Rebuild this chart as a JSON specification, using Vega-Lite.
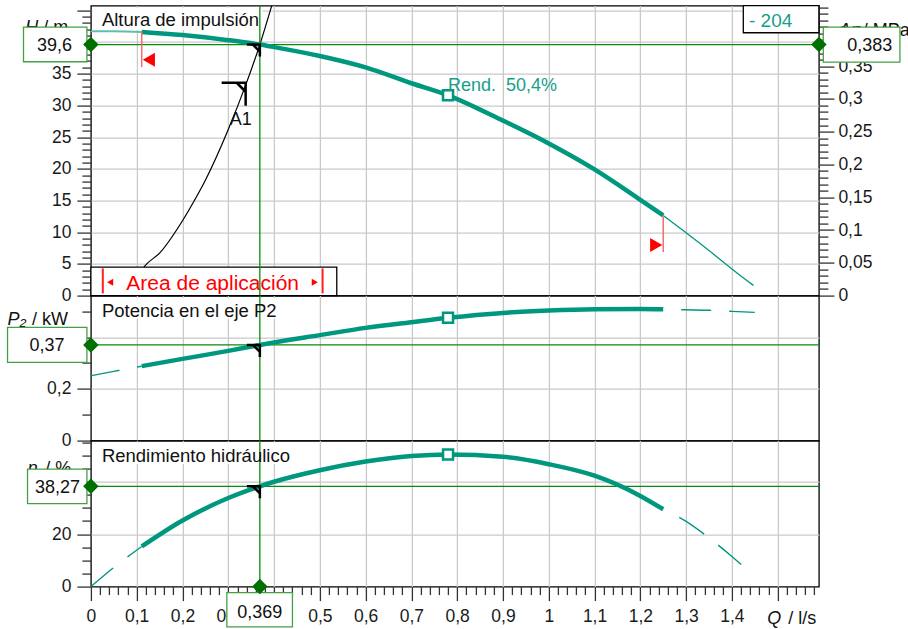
{
"$schema": "https://vega.github.io/schema/vega-lite/v6.json",
"autosize": {"type": "pad"},
"padding": {"left": 5.9, "top": 1.6, "right": 0, "bottom": 0},
"background": "white",
"bounds": "flush",
"spacing": 0,
"config": {
  "font": "Liberation Sans",
  "view": {"stroke": "#000000", "strokeWidth": 1.3},
  "axis": {"zindex": 0, "domain": false, "labelFont": "Liberation Sans", "labelFontSize": 17.5, "labelColor": "#1a1a1a", "tickColor": "#333333", "tickWidth": 1.3, "gridColor": "#cacaca", "gridWidth": 1.3, "labelOverlap": false, "labelFlush": false, "labelBound": false, "tickCount": 1000},
  "locale": {"number": {"decimal": ",", "thousands": ".", "grouping": [3], "currency": ["", " €"]}},
  "text": {"font": "Liberation Sans", "color": "#111111"}
},
"datasets": {
  "head": [{"Q":0,"H":41.7},{"Q":0.05,"H":41.7},{"Q":0.111,"H":41.6},{"Q":0.2,"H":41.1},{"Q":0.3,"H":40.3},{"Q":0.369,"H":39.6},{"Q":0.4,"H":39.2},{"Q":0.5,"H":37.8},{"Q":0.6,"H":36.0},{"Q":0.7,"H":33.5},{"Q":0.78,"H":31.6},{"Q":0.9,"H":27.6},{"Q":1.0,"H":24.0},{"Q":1.1,"H":19.9},{"Q":1.2,"H":15.1},{"Q":1.25,"H":12.65},{"Q":1.3,"H":9.9},{"Q":1.35,"H":7.1},{"Q":1.4,"H":4.2},{"Q":1.447,"H":1.6}],
  "power": [{"Q":0,"P":0.251},{"Q":0.05,"P":0.268},{"Q":0.111,"P":0.288},{"Q":0.2,"P":0.316},{"Q":0.3,"P":0.347},{"Q":0.369,"P":0.37},{"Q":0.4,"P":0.38},{"Q":0.5,"P":0.408},{"Q":0.6,"P":0.436},{"Q":0.7,"P":0.458},{"Q":0.78,"P":0.475},{"Q":0.9,"P":0.494},{"Q":1.0,"P":0.503},{"Q":1.1,"P":0.508},{"Q":1.2,"P":0.509},{"Q":1.25,"P":0.508},{"Q":1.3,"P":0.506},{"Q":1.35,"P":0.504},{"Q":1.4,"P":0.5},{"Q":1.45,"P":0.496}],
  "eff": [{"Q":0,"eta":0},{"Q":0.05,"eta":7.3},{"Q":0.111,"eta":15.3},{"Q":0.2,"eta":25.2},{"Q":0.3,"eta":33.8},{"Q":0.369,"eta":38.27},{"Q":0.4,"eta":40.0},{"Q":0.5,"eta":44.4},{"Q":0.6,"eta":47.7},{"Q":0.7,"eta":49.8},{"Q":0.78,"eta":50.4},{"Q":0.9,"eta":49.5},{"Q":1.0,"eta":46.7},{"Q":1.1,"eta":42.3},{"Q":1.2,"eta":34.6},{"Q":1.25,"eta":29.5},{"Q":1.3,"eta":24.9},{"Q":1.35,"eta":18.6},{"Q":1.4,"eta":11.5},{"Q":1.447,"eta":4.2}],
  "system": [{"Q":0.1,"H":3.0},{"Q":0.122,"H":5.0},{"Q":0.15,"H":6.7},{"Q":0.2,"H":11.8},{"Q":0.226,"H":15.0},{"Q":0.25,"H":18.2},{"Q":0.3,"H":26.2},{"Q":0.338,"H":33.2},{"Q":0.369,"H":39.6},{"Q":0.395,"H":45.75}],
  "duty": [{"Q":0.369,"H":39.6,"dp":0.383,"P":0.37,"eta":38.27}],
  "bep": [{"Q":0.78,"H":31.6,"P":0.475,"eta":50.4}],
  "anchor": [{"Q":0.338,"H":33.58,"name":"A1"}]
},
"vconcat": [
{
  "width": 728, "height": 290,
  "resolve": {"scale": {"y": "independent"}},
  "layer": [
  {
    "layer": [
      {"data":{"values":[{}]},"mark":{"type":"rect","fill":"white","strokeWidth":0},
       "encoding":{"x":{"datum":0.004,"type":"quantitative","scale":{"domain":[0,1.59],"nice":false,"zero":false},"title":null},"x2":{"datum":0.375},
         "y":{"datum":41.9,"type":"quantitative","scale":{"domain":[0,45.75],"nice":false,"zero":false},"title":null},"y2":{"datum":45.4}}},
      {"data":{"name":"system"},"mark":{"type":"line","color":"#000000","strokeWidth":1.2,"interpolate":"monotone"},
       "encoding":{"x":{"field":"Q","type":"quantitative","scale":{"domain":[0,1.59],"nice":false,"zero":false},"title":null},
         "y":{"field":"H","type":"quantitative","scale":{"domain":[0,45.75],"nice":false,"zero":false},"title":null}}},
      {"data":{"values":[{}]},"mark":{"type":"rect","fill":"white","stroke":"#000000","strokeWidth":1.3},
       "encoding":{"x":{"datum":0,"type":"quantitative","scale":{"domain":[0,1.59],"nice":false,"zero":false},"title":null},"x2":{"datum":0.537},
         "y":{"datum":0,"type":"quantitative","scale":{"domain":[0,45.75],"nice":false,"zero":false},"title":null},"y2":{"datum":4.5}}},
      {"data":{"values":[{}]},"mark":{"type":"rule","color":"#ff2020","strokeWidth":2},
       "encoding":{"x":{"datum":0.026,"type":"quantitative","scale":{"domain":[0,1.59],"nice":false,"zero":false},"title":null},
         "y":{"datum":0.35,"type":"quantitative","scale":{"domain":[0,45.75],"nice":false,"zero":false},"title":null},"y2":{"datum":4.29}}},
      {"data":{"values":[{}]},"mark":{"type":"rule","color":"#ff2020","strokeWidth":2},
       "encoding":{"x":{"datum":0.506,"type":"quantitative","scale":{"domain":[0,1.59],"nice":false,"zero":false},"title":null},
         "y":{"datum":0.35,"type":"quantitative","scale":{"domain":[0,45.75],"nice":false,"zero":false},"title":null},"y2":{"datum":4.29}}},
      {"data":{"values":[{}]},"mark":{"type":"point","shape":"triangle-left","filled":true,"size":49,"color":"#ff0000","opacity":1},
       "encoding":{"x":{"datum":0.042,"type":"quantitative","scale":{"domain":[0,1.59],"nice":false,"zero":false},"title":null},
         "y":{"datum":2.1,"type":"quantitative","scale":{"domain":[0,45.75],"nice":false,"zero":false},"title":null}}},
      {"data":{"values":[{}]},"mark":{"type":"point","shape":"triangle-right","filled":true,"size":49,"color":"#ff0000","opacity":1},
       "encoding":{"x":{"datum":0.489,"type":"quantitative","scale":{"domain":[0,1.59],"nice":false,"zero":false},"title":null},
         "y":{"datum":2.1,"type":"quantitative","scale":{"domain":[0,45.75],"nice":false,"zero":false},"title":null}}},
      {"data":{"values":[{}]},"mark":{"type":"text","align":"center","baseline":"alphabetic","fontSize":21,"color":"#ff0000"},
       "encoding":{"x":{"datum":0.266,"type":"quantitative","scale":{"domain":[0,1.59],"nice":false,"zero":false},"title":null},
         "y":{"datum":0.95,"type":"quantitative","scale":{"domain":[0,45.75],"nice":false,"zero":false},"title":null},"text":{"value":"Area de aplicación"}}},
      {"data":{"name":"duty"},"mark":{"type":"rule","color":"#0a8a0a","strokeWidth":1.3},
       "encoding":{"y":{"field":"H","type":"quantitative","scale":{"domain":[0,45.75],"nice":false,"zero":false},"title":null}}},
      {"data":{"name":"duty"},"mark":{"type":"rule","color":"#0a8a0a","strokeWidth":1.3},
       "encoding":{"x":{"field":"Q","type":"quantitative","scale":{"domain":[0,1.59],"nice":false,"zero":false},"title":null}}},
      {"data":{"values":[{}]},"mark":{"type":"text","align":"left","baseline":"alphabetic","fontSize":18,"fontStyle":"italic"},
       "encoding":{"x":{"datum":-0.1434,"type":"quantitative","scale":{"domain":[0,1.59],"nice":false,"zero":false},"title":null},
         "y":{"datum":41.36,"type":"quantitative","scale":{"domain":[0,45.75],"nice":false,"zero":false},"title":null},"text":{"value":"H"}}},
      {"data":{"values":[{}]},"mark":{"type":"text","align":"left","baseline":"alphabetic","fontSize":18},
       "encoding":{"x":{"datum":-0.104,"type":"quantitative","scale":{"domain":[0,1.59],"nice":false,"zero":false},"title":null},
         "y":{"datum":41.36,"type":"quantitative","scale":{"domain":[0,45.75],"nice":false,"zero":false},"title":null},"text":{"value":"/ m"}}},
      {"data":{"values":[{}]},"mark":{"type":"text","align":"left","baseline":"alphabetic","fontSize":18,"fontStyle":"italic"},
       "encoding":{"x":{"datum":1.6336,"type":"quantitative","scale":{"domain":[0,1.59],"nice":false,"zero":false},"title":null},
         "y":{"datum":40.95,"type":"quantitative","scale":{"domain":[0,45.75],"nice":false,"zero":false},"title":null},"text":{"value":"Δp"}}},
      {"data":{"values":[{}]},"mark":{"type":"text","align":"left","baseline":"alphabetic","fontSize":18},
       "encoding":{"x":{"datum":1.686,"type":"quantitative","scale":{"domain":[0,1.59],"nice":false,"zero":false},"title":null},
         "y":{"datum":40.95,"type":"quantitative","scale":{"domain":[0,45.75],"nice":false,"zero":false},"title":null},"text":{"value":"/ MPa"}}},
      {"data":{"name":"head"},"transform":[{"filter":"datum.Q <= 0.111"}],"mark":{"type":"line","color":"#5fbfae","strokeWidth":2,"interpolate":"monotone"},
       "encoding":{"x":{"field":"Q","type":"quantitative","scale":{"domain":[0,1.59],"nice":false,"zero":false},"title":null},
         "y":{"field":"H","type":"quantitative","scale":{"domain":[0,45.75],"nice":false,"zero":false},"title":null}}},
      {"data":{"name":"head"},"transform":[{"filter":"datum.Q >= 1.25"}],"mark":{"type":"line","color":"#00977f","strokeWidth":1.3,"interpolate":"monotone"},
       "encoding":{"x":{"field":"Q","type":"quantitative","scale":{"domain":[0,1.59],"nice":false,"zero":false},"title":null},
         "y":{"field":"H","type":"quantitative","scale":{"domain":[0,45.75],"nice":false,"zero":false},"title":null}}},
      {"data":{"name":"head"},"transform":[{"filter":"datum.Q >= 0.111 && datum.Q <= 1.25"}],"mark":{"type":"line","color":"#00977f","strokeWidth":4.5,"interpolate":"monotone"},
       "encoding":{"x":{"field":"Q","type":"quantitative","scale":{"domain":[0,1.59],"nice":false,"zero":false},"title":null,
           "axis":{"values":[0.1,0.2,0.3,0.4,0.5,0.6,0.7,0.8,0.9,1,1.1,1.2,1.3,1.4,1.5],"labels":false,"ticks":false,"domain":false,"grid":true,"tickCount":1000}},
         "y":{"field":"H","type":"quantitative","scale":{"domain":[0,45.75],"nice":false,"zero":false},"title":null,
           "axis":{"orient":"left","tickCount":1000,"values":[0,1,2,3,4,5,6,7,8,9,10,11,12,13,14,15,16,17,18,19,20,21,22,23,24,25,26,27,28,29,30,31,32,33,34,35,36,37,38,39,40,41,42,43,44,45],
             "tickSize":{"condition":{"test":"datum.value % 5 === 0","value":14},"value":9},
             "labelFontSize":{"condition":{"test":"datum.value % 5 === 0 && datum.value < 41","value":17.5},"value":0},
             "labelExpr":"datum.value % 5 === 0 && datum.value < 41 ? replace(format(datum.value, '~r'), '.', ',') : ''","labelPadding":6,"grid":true,
             "gridOpacity":{"condition":{"test":"datum.value % 5 === 0 && datum.value > 0","value":1},"value":0}}}}},
      {"data":{"values":[{}]},"mark":{"type":"rule","color":"#f26d6d","strokeWidth":1.5},
       "encoding":{"x":{"datum":0.111,"type":"quantitative","scale":{"domain":[0,1.59],"nice":false,"zero":false},"title":null},
         "y":{"datum":41.7,"type":"quantitative","scale":{"domain":[0,45.75],"nice":false,"zero":false},"title":null},"y2":{"datum":36.04}}},
      {"data":{"values":[{}]},"mark":{"type":"point","shape":"triangle-left","filled":true,"size":196,"color":"#ff0000","opacity":1},
       "encoding":{"x":{"datum":0.1266,"type":"quantitative","scale":{"domain":[0,1.59],"nice":false,"zero":false},"title":null},
         "y":{"datum":37.22,"type":"quantitative","scale":{"domain":[0,45.75],"nice":false,"zero":false},"title":null}}},
      {"data":{"values":[{}]},"mark":{"type":"rule","color":"#f26d6d","strokeWidth":1.5},
       "encoding":{"x":{"datum":1.25,"type":"quantitative","scale":{"domain":[0,1.59],"nice":false,"zero":false},"title":null},
         "y":{"datum":12.65,"type":"quantitative","scale":{"domain":[0,45.75],"nice":false,"zero":false},"title":null},"y2":{"datum":6.86}}},
      {"data":{"values":[{}]},"mark":{"type":"point","shape":"triangle-right","filled":true,"size":196,"color":"#ff0000","opacity":1},
       "encoding":{"x":{"datum":1.2347,"type":"quantitative","scale":{"domain":[0,1.59],"nice":false,"zero":false},"title":null},
         "y":{"datum":7.97,"type":"quantitative","scale":{"domain":[0,45.75],"nice":false,"zero":false},"title":null}}},
      {"data":{"name":"duty"},"mark":{"type":"point","shape":"M-13,0H0V12M-7,0L0,7","size":4,"filled":false,"color":"#000000","strokeWidth":2.5,"opacity":1},
       "encoding":{"x":{"field":"Q","type":"quantitative","scale":{"domain":[0,1.59],"nice":false,"zero":false},"title":null},
         "y":{"field":"H","type":"quantitative","scale":{"domain":[0,45.75],"nice":false,"zero":false},"title":null}}},
      {"data":{"name":"anchor"},"mark":{"type":"point","shape":"M-24,0H0V23M-9,0L0,9","size":4,"filled":false,"color":"#000000","strokeWidth":2.5,"opacity":1},
       "encoding":{"x":{"field":"Q","type":"quantitative","scale":{"domain":[0,1.59],"nice":false,"zero":false},"title":null},
         "y":{"field":"H","type":"quantitative","scale":{"domain":[0,45.75],"nice":false,"zero":false},"title":null}}},
      {"data":{"name":"anchor"},"mark":{"type":"text","align":"center","baseline":"alphabetic","fontSize":18,"dx":-5,"dy":42.7},
       "encoding":{"x":{"field":"Q","type":"quantitative","scale":{"domain":[0,1.59],"nice":false,"zero":false},"title":null},
         "y":{"field":"H","type":"quantitative","scale":{"domain":[0,45.75],"nice":false,"zero":false},"title":null},"text":{"field":"name"}}},
      {"data":{"name":"bep"},"mark":{"type":"point","shape":"square","size":100,"filled":true,"fill":"white","stroke":"#00977f","strokeWidth":2.5,"opacity":1},
       "encoding":{"x":{"field":"Q","type":"quantitative","scale":{"domain":[0,1.59],"nice":false,"zero":false},"title":null},
         "y":{"field":"H","type":"quantitative","scale":{"domain":[0,45.75],"nice":false,"zero":false},"title":null}}},
      {"data":{"name":"bep"},"mark":{"type":"text","align":"left","baseline":"alphabetic","fontSize":18,"color":"#16a08a","dy":-4.2},
       "encoding":{"x":{"field":"Q","type":"quantitative","scale":{"domain":[0,1.59],"nice":false,"zero":false},"title":null},
         "y":{"field":"H","type":"quantitative","scale":{"domain":[0,45.75],"nice":false,"zero":false},"title":null},"text":{"value":"Rend.\u00a0 50,4%"}}},
      {"data":{"values":[{}]},"mark":{"type":"text","align":"left","baseline":"alphabetic","fontSize":18.5},
       "encoding":{"x":{"datum":0.024,"type":"quantitative","scale":{"domain":[0,1.59],"nice":false,"zero":false},"title":null},
         "y":{"datum":42.57,"type":"quantitative","scale":{"domain":[0,45.75],"nice":false,"zero":false},"title":null},"text":{"value":"Altura de impulsión"}}},
      {"data":{"values":[{}]},"mark":{"type":"rect","fill":"white","stroke":"#000000","strokeWidth":1.3},
       "encoding":{"x":{"datum":1.4249,"type":"quantitative","scale":{"domain":[0,1.59],"nice":false,"zero":false},"title":null},"x2":{"datum":1.59},
         "y":{"datum":41.47,"type":"quantitative","scale":{"domain":[0,45.75],"nice":false,"zero":false},"title":null},"y2":{"datum":45.75}}},
      {"data":{"values":[{}]},"mark":{"type":"text","align":"left","baseline":"alphabetic","fontSize":19,"color":"#16a08a"},
       "encoding":{"x":{"datum":1.4373,"type":"quantitative","scale":{"domain":[0,1.59],"nice":false,"zero":false},"title":null},
         "y":{"datum":42.35,"type":"quantitative","scale":{"domain":[0,45.75],"nice":false,"zero":false},"title":null},"text":{"value":"- 204"}}},
      {"data":{"values":[{}]},"mark":{"type":"rect","fill":"white","stroke":"#44a044","strokeWidth":1.3},
       "encoding":{"x":{"datum":-0.1472,"type":"quantitative","scale":{"domain":[0,1.59],"nice":false,"zero":false},"title":null},"x2":{"datum":-0.0087},
         "y":{"datum":36.89,"type":"quantitative","scale":{"domain":[0,45.75],"nice":false,"zero":false},"title":null},"y2":{"datum":42.35}}},
      {"data":{"name":"duty"},"mark":{"type":"text","align":"center","baseline":"alphabetic","fontSize":18,"dy":6.5},
       "encoding":{"x":{"datum":-0.0797,"type":"quantitative","scale":{"domain":[0,1.59],"nice":false,"zero":false},"title":null},
         "y":{"field":"H","type":"quantitative","scale":{"domain":[0,45.75],"nice":false,"zero":false},"title":null},"text":{"field":"H","format":".1f"}}},
      {"data":{"values":[{}]},"mark":{"type":"rect","fill":"white","stroke":"#44a044","strokeWidth":1.3},
       "encoding":{"x":{"datum":1.5996,"type":"quantitative","scale":{"domain":[0,1.59],"nice":false,"zero":false},"title":null},"x2":{"datum":1.767},
         "y":{"datum":36.83,"type":"quantitative","scale":{"domain":[0,45.75],"nice":false,"zero":false},"title":null},"y2":{"datum":42.35}}},
      {"data":{"name":"duty"},"mark":{"type":"text","align":"center","baseline":"alphabetic","fontSize":18,"dy":6.5},
       "encoding":{"x":{"datum":1.701,"type":"quantitative","scale":{"domain":[0,1.59],"nice":false,"zero":false},"title":null},
         "y":{"field":"H","type":"quantitative","scale":{"domain":[0,45.75],"nice":false,"zero":false},"title":null},"text":{"field":"dp","format":".3f"}}},
      {"data":{"name":"duty"},"mark":{"type":"point","shape":"diamond","size":240,"filled":true,"color":"#007000","opacity":1},
       "encoding":{"x":{"datum":0,"type":"quantitative","scale":{"domain":[0,1.59],"nice":false,"zero":false},"title":null},
         "y":{"field":"H","type":"quantitative","scale":{"domain":[0,45.75],"nice":false,"zero":false},"title":null}}}
    ]
  },
  {
    "data":{"name":"duty"},
    "mark":{"type":"point","shape":"diamond","size":240,"filled":true,"color":"#007000","opacity":1},
    "encoding":{"x":{"datum":1.59,"type":"quantitative","scale":{"domain":[0,1.59],"nice":false,"zero":false},"title":null},
      "y":{"field":"dp","type":"quantitative","scale":{"domain":[0,0.4425],"nice":false,"zero":false},"title":null,
        "axis":{"orient":"right","tickCount":1000,"values":[0,0.01,0.02,0.03,0.04,0.05,0.06,0.07,0.08,0.09,0.1,0.11,0.12,0.13,0.14,0.15,0.16,0.17,0.18,0.19,0.2,0.21,0.22,0.23,0.24,0.25,0.26,0.27,0.28,0.29,0.3,0.31,0.32,0.33,0.34,0.35,0.36,0.37,0.38,0.39,0.4,0.41,0.42,0.43,0.44],
          "tickSize":{"condition":{"test":"abs(datum.value*20-round(datum.value*20))<0.001","value":15},"value":9},
          "labelFontSize":{"condition":{"test":"abs(datum.value*20-round(datum.value*20))<0.001","value":17.5},"value":0},
          "labelExpr":"abs(datum.value*20-round(datum.value*20))<0.001 ? replace(format(datum.value, '~r'), '.', ',') : ''","labelPadding":4,"grid":false}}}
  }
  ]
},
{
  "width": 728, "height": 145,
  "layer": [
    {"data":{"values":[{}]},"mark":{"type":"rect","fill":"white","strokeWidth":0},
     "encoding":{"x":{"datum":0.004,"type":"quantitative","scale":{"domain":[0,1.59],"nice":false,"zero":false},"title":null},"x2":{"datum":0.415},
       "y":{"datum":0.472,"type":"quantitative","scale":{"domain":[0,0.5609],"nice":false,"zero":false},"title":null},"y2":{"datum":0.552}}},
    {"data":{"name":"duty"},"mark":{"type":"rule","color":"#0a8a0a","strokeWidth":1.3},
     "encoding":{"y":{"field":"P","type":"quantitative","scale":{"domain":[0,0.5609],"nice":false,"zero":false},"title":null}}},
    {"data":{"name":"duty"},"mark":{"type":"rule","color":"#0a8a0a","strokeWidth":1.3},
     "encoding":{"x":{"field":"Q","type":"quantitative","scale":{"domain":[0,1.59],"nice":false,"zero":false},"title":null}}},
    {"data":{"values":[{}]},"mark":{"type":"text","align":"left","baseline":"alphabetic","fontSize":18,"fontStyle":"italic"},
     "encoding":{"x":{"datum":-0.182,"type":"quantitative","scale":{"domain":[0,1.59],"nice":false,"zero":false},"title":null},
       "y":{"datum":0.4476,"type":"quantitative","scale":{"domain":[0,0.5609],"nice":false,"zero":false},"title":null},"text":{"value":"P₂"}}},
    {"data":{"values":[{}]},"mark":{"type":"text","align":"left","baseline":"alphabetic","fontSize":18},
     "encoding":{"x":{"datum":-0.1288,"type":"quantitative","scale":{"domain":[0,1.59],"nice":false,"zero":false},"title":null},
       "y":{"datum":0.4476,"type":"quantitative","scale":{"domain":[0,0.5609],"nice":false,"zero":false},"title":null},"text":{"value":"/ kW"}}},
    {"data":{"name":"power"},"transform":[{"filter":"datum.Q <= 0.111"}],"mark":{"type":"line","color":"#00977f","strokeWidth":1.4,"strokeDash":[29,18],"interpolate":"monotone"},
     "encoding":{"x":{"field":"Q","type":"quantitative","scale":{"domain":[0,1.59],"nice":false,"zero":false},"title":null},
       "y":{"field":"P","type":"quantitative","scale":{"domain":[0,0.5609],"nice":false,"zero":false},"title":null}}},
    {"data":{"name":"power"},"transform":[{"filter":"datum.Q >= 1.25"}],"mark":{"type":"line","color":"#00977f","strokeWidth":1.4,"strokeDash":[30,18],"strokeDashOffset":30,"interpolate":"monotone"},
     "encoding":{"x":{"field":"Q","type":"quantitative","scale":{"domain":[0,1.59],"nice":false,"zero":false},"title":null},
       "y":{"field":"P","type":"quantitative","scale":{"domain":[0,0.5609],"nice":false,"zero":false},"title":null}}},
    {"data":{"name":"power"},"transform":[{"filter":"datum.Q >= 0.111 && datum.Q <= 1.25"}],"mark":{"type":"line","color":"#00977f","strokeWidth":4.5,"interpolate":"monotone"},
     "encoding":{"x":{"field":"Q","type":"quantitative","scale":{"domain":[0,1.59],"nice":false,"zero":false},"title":null,
         "axis":{"values":[0.1,0.2,0.3,0.4,0.5,0.6,0.7,0.8,0.9,1,1.1,1.2,1.3,1.4,1.5],"labels":false,"ticks":false,"domain":false,"grid":true,"tickCount":1000}},
       "y":{"field":"P","type":"quantitative","scale":{"domain":[0,0.5609],"nice":false,"zero":false},"title":null,
         "axis":{"orient":"left","tickCount":1000,"values":[0,0.1,0.2,0.3,0.4,0.5],
           "tickSize":{"condition":{"test":"round(datum.value*10) % 2 === 0","value":14},"value":9},
           "labelFontSize":{"condition":{"test":"round(datum.value*10) % 2 === 0","value":17.5},"value":0},
           "labelExpr":"round(datum.value*10) % 2 === 0 ? replace(format(datum.value, '~r'), '.', ',') : ''","labelPadding":6,"grid":true,
           "gridOpacity":{"condition":{"test":"round(datum.value*10) % 2 === 0 && datum.value > 0","value":1},"value":0}}}}},
    {"data":{"name":"duty"},"mark":{"type":"point","shape":"M-13,0H0V12M-7,0L0,7","size":4,"filled":false,"color":"#000000","strokeWidth":2.5,"opacity":1},
     "encoding":{"x":{"field":"Q","type":"quantitative","scale":{"domain":[0,1.59],"nice":false,"zero":false},"title":null},
       "y":{"field":"P","type":"quantitative","scale":{"domain":[0,0.5609],"nice":false,"zero":false},"title":null}}},
    {"data":{"name":"bep"},"mark":{"type":"point","shape":"square","size":100,"filled":true,"fill":"white","stroke":"#00977f","strokeWidth":2.5,"opacity":1},
     "encoding":{"x":{"field":"Q","type":"quantitative","scale":{"domain":[0,1.59],"nice":false,"zero":false},"title":null},
       "y":{"field":"P","type":"quantitative","scale":{"domain":[0,0.5609],"nice":false,"zero":false},"title":null}}},
    {"data":{"values":[{}]},"mark":{"type":"text","align":"left","baseline":"alphabetic","fontSize":18.5},
     "encoding":{"x":{"datum":0.024,"type":"quantitative","scale":{"domain":[0,1.59],"nice":false,"zero":false},"title":null},
       "y":{"datum":0.4797,"type":"quantitative","scale":{"domain":[0,0.5609],"nice":false,"zero":false},"title":null},"text":{"value":"Potencia en el eje P2"}}},
    {"data":{"values":[{}]},"mark":{"type":"rect","fill":"white","stroke":"#44a044","strokeWidth":1.3},
     "encoding":{"x":{"datum":-0.1821,"type":"quantitative","scale":{"domain":[0,1.59],"nice":false,"zero":false},"title":null},"x2":{"datum":-0.0087},
       "y":{"datum":0.3029,"type":"quantitative","scale":{"domain":[0,0.5609],"nice":false,"zero":false},"title":null},"y2":{"datum":0.4383}}},
    {"data":{"name":"duty"},"mark":{"type":"text","align":"center","baseline":"alphabetic","fontSize":18,"dy":6.5},
     "encoding":{"x":{"datum":-0.0961,"type":"quantitative","scale":{"domain":[0,1.59],"nice":false,"zero":false},"title":null},
       "y":{"field":"P","type":"quantitative","scale":{"domain":[0,0.5609],"nice":false,"zero":false},"title":null},"text":{"field":"P","format":".2f"}}},
    {"data":{"name":"duty"},"mark":{"type":"point","shape":"diamond","size":240,"filled":true,"color":"#007000","opacity":1},
     "encoding":{"x":{"datum":0,"type":"quantitative","scale":{"domain":[0,1.59],"nice":false,"zero":false},"title":null},
       "y":{"field":"P","type":"quantitative","scale":{"domain":[0,0.5609],"nice":false,"zero":false},"title":null}}}
  ]
},
{
  "width": 728, "height": 146,
  "layer": [
    {"data":{"values":[{}]},"mark":{"type":"rect","fill":"white","strokeWidth":0},
     "encoding":{"x":{"datum":0.004,"type":"quantitative","scale":{"domain":[0,1.59],"nice":false,"zero":false},"title":null},"x2":{"datum":0.435},
       "y":{"datum":46.8,"type":"quantitative","scale":{"domain":[0,55.7],"nice":false,"zero":false},"title":null},"y2":{"datum":55.0}}},
    {"data":{"name":"duty"},"mark":{"type":"rule","color":"#0a8a0a","strokeWidth":1.3},
     "encoding":{"y":{"field":"eta","type":"quantitative","scale":{"domain":[0,55.7],"nice":false,"zero":false},"title":null}}},
    {"data":{"name":"duty"},"mark":{"type":"rule","color":"#0a8a0a","strokeWidth":1.3},
     "encoding":{"x":{"field":"Q","type":"quantitative","scale":{"domain":[0,1.59],"nice":false,"zero":false},"title":null}}},
    {"data":{"values":[{}]},"mark":{"type":"text","align":"left","baseline":"alphabetic","fontSize":18,"fontStyle":"italic"},
     "encoding":{"x":{"datum":-0.138,"type":"quantitative","scale":{"domain":[0,1.59],"nice":false,"zero":false},"title":null},
       "y":{"datum":43,"type":"quantitative","scale":{"domain":[0,55.7],"nice":false,"zero":false},"title":null},"text":{"value":"η"}}},
    {"data":{"values":[{}]},"mark":{"type":"text","align":"left","baseline":"alphabetic","fontSize":18},
     "encoding":{"x":{"datum":-0.0998,"type":"quantitative","scale":{"domain":[0,1.59],"nice":false,"zero":false},"title":null},
       "y":{"datum":43,"type":"quantitative","scale":{"domain":[0,55.7],"nice":false,"zero":false},"title":null},"text":{"value":"/ %"}}},
    {"data":{"values":[{}]},"mark":{"type":"text","align":"left","baseline":"alphabetic","fontSize":18,"fontStyle":"italic"},
     "encoding":{"x":{"datum":1.477,"type":"quantitative","scale":{"domain":[0,1.59],"nice":false,"zero":false},"title":null},
       "y":{"datum":-14.35,"type":"quantitative","scale":{"domain":[0,55.7],"nice":false,"zero":false},"title":null},"text":{"value":"Q"}}},
    {"data":{"values":[{}]},"mark":{"type":"text","align":"left","baseline":"alphabetic","fontSize":18},
     "encoding":{"x":{"datum":1.523,"type":"quantitative","scale":{"domain":[0,1.59],"nice":false,"zero":false},"title":null},
       "y":{"datum":-14.35,"type":"quantitative","scale":{"domain":[0,55.7],"nice":false,"zero":false},"title":null},"text":{"value":"/ l/s"}}},
    {"data":{"name":"eff"},"transform":[{"filter":"datum.Q <= 0.111"}],"mark":{"type":"line","color":"#00977f","strokeWidth":1.4,"strokeDash":[29,18],"interpolate":"monotone"},
     "encoding":{"x":{"field":"Q","type":"quantitative","scale":{"domain":[0,1.59],"nice":false,"zero":false},"title":null},
       "y":{"field":"eta","type":"quantitative","scale":{"domain":[0,55.7],"nice":false,"zero":false},"title":null}}},
    {"data":{"name":"eff"},"transform":[{"filter":"datum.Q >= 1.25"}],"mark":{"type":"line","color":"#00977f","strokeWidth":1.4,"strokeDash":[30,18],"strokeDashOffset":30,"interpolate":"monotone"},
     "encoding":{"x":{"field":"Q","type":"quantitative","scale":{"domain":[0,1.59],"nice":false,"zero":false},"title":null},
       "y":{"field":"eta","type":"quantitative","scale":{"domain":[0,55.7],"nice":false,"zero":false},"title":null}}},
    {"data":{"name":"eff"},"transform":[{"filter":"datum.Q >= 0.111 && datum.Q <= 1.25"}],"mark":{"type":"line","color":"#00977f","strokeWidth":4.5,"interpolate":"monotone"},
     "encoding":{"x":{"field":"Q","type":"quantitative","scale":{"domain":[0,1.59],"nice":false,"zero":false},"title":null,
         "axis":{"orient":"bottom","tickCount":1000,"values":[0,0.02,0.04,0.06,0.08,0.1,0.12,0.14,0.16,0.18,0.2,0.22,0.24,0.26,0.28,0.3,0.32,0.34,0.36,0.38,0.4,0.42,0.44,0.46,0.48,0.5,0.52,0.54,0.56,0.58,0.6,0.62,0.64,0.66,0.68,0.7,0.72,0.74,0.76,0.78,0.8,0.82,0.84,0.86,0.88,0.9,0.92,0.94,0.96,0.98,1,1.02,1.04,1.06,1.08,1.1,1.12,1.14,1.16,1.18,1.2,1.22,1.24,1.26,1.28,1.3,1.32,1.34,1.36,1.38,1.4,1.42,1.44,1.46,1.48,1.5,1.52,1.54,1.56,1.58],
           "tickSize":{"condition":{"test":"abs(datum.value*10-round(datum.value*10))<0.001","value":14},"value":8},
           "labelFontSize":{"condition":{"test":"abs(datum.value*10-round(datum.value*10))<0.001","value":17.5},"value":0},
           "labelExpr":"abs(datum.value*10-round(datum.value*10))<0.001 && datum.value < 1.45 ? replace(format(datum.value, '~r'), '.', ',') : ''","labelPadding":7,"grid":true,
           "gridOpacity":{"condition":{"test":"abs(datum.value*10-round(datum.value*10))<0.001 && datum.value > 0.05","value":1},"value":0}}},
       "y":{"field":"eta","type":"quantitative","scale":{"domain":[0,55.7],"nice":false,"zero":false},"title":null,
         "axis":{"orient":"left","tickCount":1000,"values":[0,5,10,15,20,25,30,35,40,45,50,55],
           "tickSize":{"condition":{"test":"datum.value % 20 === 0","value":14},"value":9},
           "labelFontSize":{"condition":{"test":"datum.value % 20 === 0","value":17.5},"value":0},
           "labelExpr":"datum.value % 20 === 0 ? replace(format(datum.value, '~r'), '.', ',') : ''","labelPadding":6,"grid":true,
           "gridOpacity":{"condition":{"test":"datum.value % 20 === 0 && datum.value > 0","value":1},"value":0}}}}},
    {"data":{"name":"duty"},"mark":{"type":"point","shape":"M-13,0H0V12M-7,0L0,7","size":4,"filled":false,"color":"#000000","strokeWidth":2.5,"opacity":1},
     "encoding":{"x":{"field":"Q","type":"quantitative","scale":{"domain":[0,1.59],"nice":false,"zero":false},"title":null},
       "y":{"field":"eta","type":"quantitative","scale":{"domain":[0,55.7],"nice":false,"zero":false},"title":null}}},
    {"data":{"name":"bep"},"mark":{"type":"point","shape":"square","size":100,"filled":true,"fill":"white","stroke":"#00977f","strokeWidth":2.5,"opacity":1},
     "encoding":{"x":{"field":"Q","type":"quantitative","scale":{"domain":[0,1.59],"nice":false,"zero":false},"title":null},
       "y":{"field":"eta","type":"quantitative","scale":{"domain":[0,55.7],"nice":false,"zero":false},"title":null}}},
    {"data":{"values":[{}]},"mark":{"type":"text","align":"left","baseline":"alphabetic","fontSize":18.5},
     "encoding":{"x":{"datum":0.024,"type":"quantitative","scale":{"domain":[0,1.59],"nice":false,"zero":false},"title":null},
       "y":{"datum":47.7,"type":"quantitative","scale":{"domain":[0,55.7],"nice":false,"zero":false},"title":null},"text":{"value":"Rendimiento hidráulico"}}},
    {"data":{"values":[{}]},"mark":{"type":"rect","fill":"white","stroke":"#44a044","strokeWidth":1.3},
     "encoding":{"x":{"datum":-0.1384,"type":"quantitative","scale":{"domain":[0,1.59],"nice":false,"zero":false},"title":null},"x2":{"datum":-0.0087},
       "y":{"datum":31.68,"type":"quantitative","scale":{"domain":[0,55.7],"nice":false,"zero":false},"title":null},"y2":{"datum":44.81}}},
    {"data":{"name":"duty"},"mark":{"type":"text","align":"center","baseline":"alphabetic","fontSize":18,"dy":6.5},
     "encoding":{"x":{"datum":-0.0729,"type":"quantitative","scale":{"domain":[0,1.59],"nice":false,"zero":false},"title":null},
       "y":{"field":"eta","type":"quantitative","scale":{"domain":[0,55.7],"nice":false,"zero":false},"title":null},"text":{"field":"eta","format":".2f"}}},
    {"data":{"values":[{}]},"mark":{"type":"rect","fill":"white","stroke":"#44a044","strokeWidth":1.3},
     "encoding":{"x":{"datum":0.2969,"type":"quantitative","scale":{"domain":[0,1.59],"nice":false,"zero":false},"title":null},"x2":{"datum":0.4402},
       "y":{"datum":-2.29,"type":"quantitative","scale":{"domain":[0,55.7],"nice":false,"zero":false},"title":null},"y2":{"datum":-15.38}}},
    {"data":{"name":"duty"},"mark":{"type":"text","align":"center","baseline":"alphabetic","fontSize":18},
     "encoding":{"x":{"field":"Q","type":"quantitative","scale":{"domain":[0,1.59],"nice":false,"zero":false},"title":null},
       "y":{"datum":-11.83,"type":"quantitative","scale":{"domain":[0,55.7],"nice":false,"zero":false},"title":null},"text":{"field":"Q","format":".3f"}}},
    {"data":{"name":"duty"},"mark":{"type":"point","shape":"diamond","size":240,"filled":true,"color":"#007000","opacity":1},
     "encoding":{"x":{"datum":0,"type":"quantitative","scale":{"domain":[0,1.59],"nice":false,"zero":false},"title":null},
       "y":{"field":"eta","type":"quantitative","scale":{"domain":[0,55.7],"nice":false,"zero":false},"title":null}}},
    {"data":{"name":"duty"},"mark":{"type":"point","shape":"diamond","size":240,"filled":true,"color":"#007000","opacity":1},
     "encoding":{"x":{"field":"Q","type":"quantitative","scale":{"domain":[0,1.59],"nice":false,"zero":false},"title":null},
       "y":{"datum":0,"type":"quantitative","scale":{"domain":[0,55.7],"nice":false,"zero":false},"title":null}}}
  ]
}
]
}
